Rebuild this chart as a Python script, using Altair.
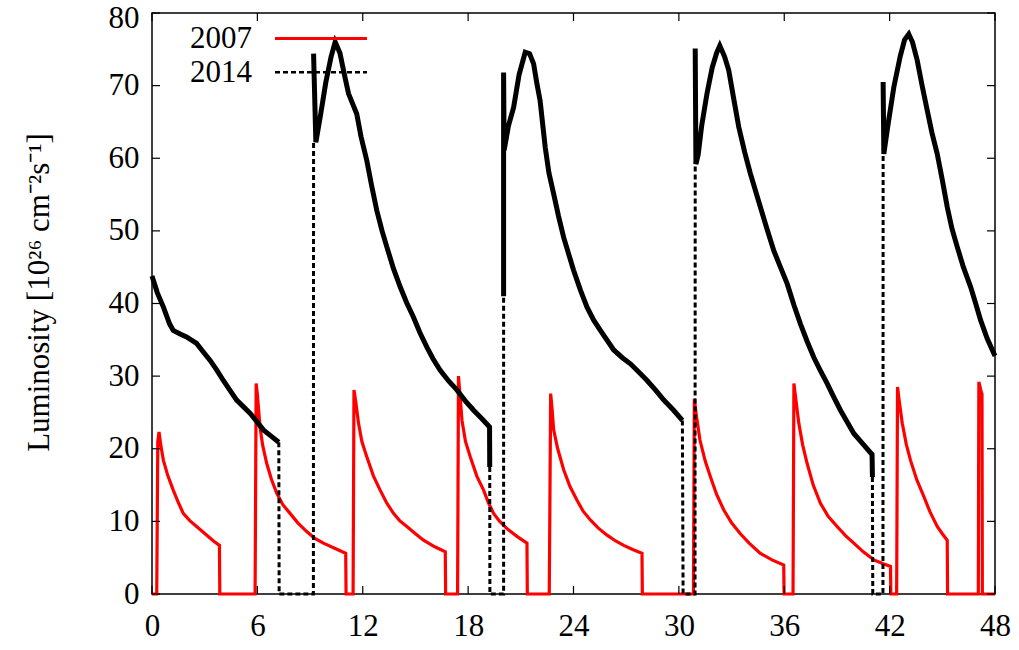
import altair as alt
import pandas as pd

# ---------------- data ----------------
x_ticks = [0, 6, 12, 18, 24, 30, 36, 42, 48]
y_ticks = [0, 10, 20, 30, 40, 50, 60, 70, 80]

# 2007 (red, solid) - hours and luminosity
red_x = [0, 0.27, 0.33, 0.40, 0.50, 0.65, 0.90, 1.21, 1.50, 1.78, 2.15, 2.54, 3.12, 3.50, 3.84, 3.86,
         5.87, 5.93, 6.00, 6.15, 6.30, 6.53, 6.80, 7.10, 7.45, 7.86, 8.30, 8.81, 9.25, 9.76, 10.40, 11.03, 11.05,
         11.45, 11.50, 11.60, 11.76, 11.95, 12.23, 12.60, 12.99, 13.35, 13.75, 14.10, 14.51, 15.00, 15.46, 16.10, 16.70, 16.72,
         17.40, 17.45, 17.55, 17.65, 17.85, 18.12, 18.50, 18.88, 19.15, 19.45, 19.80, 20.21, 20.80, 21.35, 21.37,
         22.62, 22.70, 22.78, 22.87, 23.10, 23.44, 23.80, 24.20, 24.55, 24.96, 25.40, 25.91, 26.40, 26.86, 27.40, 27.90, 27.92,
         30.83, 30.88, 31.00, 31.20, 31.50, 31.80, 32.15, 32.55, 33.00, 33.50, 34.00, 34.64, 35.30, 35.97, 35.99,
         36.50, 36.55, 36.65, 36.83, 37.05, 37.30, 37.65, 38.06, 38.50, 39.01, 39.50, 39.96, 40.50, 41.10, 41.60, 42.05, 42.07,
         42.40, 42.45, 42.55, 42.72, 42.95, 43.19, 43.55, 43.95, 44.30, 44.71, 45.00, 45.28, 45.30,
         47.05, 47.08, 47.20, 47.26, 47.28, 48.00]
red_y = [0, 0, 21.0, 22.3, 20.5, 18.4, 16.3, 14.3, 12.6, 11.1, 10.1, 9.3, 8.1, 7.3, 6.7, 0,
         0, 29.0, 27.5, 23.0, 20.5, 18.0, 15.8, 13.9, 12.3, 11.1, 9.8, 8.6, 7.7, 7.0, 6.3, 5.6, 0,
         0, 28.1, 26.5, 23.5, 21.0, 18.9, 16.3, 14.3, 12.6, 11.1, 10.1, 9.3, 8.3, 7.4, 6.5, 5.8, 0,
         0, 30.0, 27.0, 23.9, 21.0, 18.9, 16.2, 14.3, 12.6, 11.1, 10.0, 9.0, 7.9, 7.0, 0,
         0, 27.6, 25.5, 22.6, 20.0, 17.1, 14.8, 12.9, 11.4, 10.2, 9.1, 8.1, 7.3, 6.7, 6.1, 5.6, 0,
         0, 26.9, 24.5, 21.2, 18.3, 16.1, 13.7, 11.6, 9.8, 8.3, 7.0, 5.6, 4.7, 4.0, 0,
         0, 29.0, 27.0, 23.5, 20.5, 18.0, 15.0, 12.5, 10.7, 9.3, 8.0, 7.0, 5.8, 4.7, 4.2, 3.8, 0,
         0, 28.5, 26.5, 23.5, 20.6, 18.4, 15.7, 13.4, 11.3, 9.3, 8.3, 7.4, 0,
         0, 29.2, 28.0, 27.5, 0, 0]

# 2014 (black) - dense (solid-looking) stretches
blk_solid_x = [
    [0.00, 0.30, 0.65, 1.00, 1.21, 1.60, 1.97, 2.54, 2.90, 3.30, 3.70, 4.06, 4.45, 4.82, 5.20, 5.58, 5.95, 6.34, 6.80, 7.22],
    [9.20, 9.33, 9.60, 9.90, 10.20, 10.43, 10.70, 11.00, 11.19, 11.66, 11.90, 12.23, 12.50, 12.80, 13.10, 13.37, 13.75,
     14.13, 14.50, 14.89, 15.25, 15.65, 16.00, 16.41, 16.90, 17.36, 17.80, 18.31, 18.80, 19.22, 19.23],
    [20.02, 20.02, 20.05, 20.30, 20.59, 20.90, 21.25, 21.50, 21.73, 21.90, 22.10, 22.39, 22.60, 22.87, 23.15, 23.44,
     24.00, 24.40, 24.77, 25.15, 25.53, 26.29, 26.80, 27.24, 27.70, 28.19, 28.70, 29.14, 29.70, 30.20],
    [30.93, 30.97, 31.10, 31.30, 31.60, 31.90, 32.15, 32.33, 32.60, 32.84, 33.10, 33.41, 33.75, 34.07, 34.64, 35.00,
     35.40, 35.80, 36.17, 36.55, 36.92, 37.30, 37.68, 38.05, 38.44, 38.80, 39.20, 39.60, 39.96, 40.50, 41.00, 41.02],
    [41.63, 41.67, 41.90, 42.24, 42.60, 42.85, 43.09, 43.30, 43.57, 43.85, 44.14, 44.41, 44.71, 45.00, 45.28, 45.55,
     45.85, 46.20, 46.61, 46.90, 47.18, 47.55, 47.94, 48.00],
]
blk_solid_y = [
    [43.8, 41.5, 39.5, 37.2, 36.3, 35.8, 35.4, 34.5, 33.4, 32.2, 30.8, 29.4, 28.0, 26.7, 25.8, 24.9, 23.8, 22.6, 21.7, 20.9],
    [74.4, 62.2, 66.0, 70.5, 74.0, 76.0, 74.5, 71.0, 68.9, 66.1, 63.0, 59.7, 56.3, 52.8, 50.0, 47.8, 44.8,
     42.3, 40.1, 38.1, 36.0, 34.0, 32.4, 30.8, 29.3, 28.1, 26.7, 25.3, 24.1, 23.0, 17.5],
    [41.0, 71.8, 61.1, 64.5, 67.0, 71.5, 74.6, 74.4, 73.0, 70.5, 67.9, 61.5, 58.0, 55.1, 52.0, 49.1,
     44.6, 41.8, 39.5, 37.7, 36.3, 33.6, 32.5, 31.7, 30.6, 29.4, 28.0, 26.7, 25.3, 23.9],
    [75.1, 59.2, 60.5, 64.5, 68.9, 72.5, 74.5, 75.5, 74.0, 72.1, 68.5, 64.3, 60.8, 57.9, 53.3, 50.4,
     47.3, 44.9, 42.7, 39.8, 37.2, 34.8, 32.6, 30.8, 29.0, 27.2, 25.3, 23.6, 22.1, 20.6, 19.2, 16.1],
    [70.5, 60.6, 64.5, 69.8, 74.0, 76.3, 77.1, 76.0, 73.5, 70.0, 66.6, 63.5, 60.6, 57.0, 53.3, 50.3,
     47.8, 45.0, 42.3, 40.0, 37.7, 35.2, 33.1, 32.8],
]
# 2014 (black) - sparse gaps drawn dashed
blk_dash_x = [
    [7.22, 7.24, 9.19, 9.20],
    [19.23, 19.24, 20.02, 20.02],
    [30.20, 30.24, 30.92, 30.93],
    [41.02, 41.04, 41.62, 41.63],
]
blk_dash_y = [
    [20.9, 0, 0, 62.5],
    [17.5, 0, 0, 41.0],
    [23.9, 0, 0, 59.5],
    [16.1, 0, 0, 60.5],
]

legend_labels = ["2007", "2014"]

# ---------------- build tables ----------------
red_df = pd.DataFrame({"hr": red_x, "val": red_y})
red_df["i"] = range(len(red_df))


def seg_table(xs, ys):
    rows = []
    for s, (sx, sy) in enumerate(zip(xs, ys)):
        for k, (a, b) in enumerate(zip(sx, sy)):
            rows.append({"hr": a, "val": b, "seg": s, "i": k})
    return pd.DataFrame(rows)


solid_df = seg_table(blk_solid_x, blk_solid_y)
dash_df = seg_table(blk_dash_x, blk_dash_y)
xt_df = pd.DataFrame({"t": x_ticks})
yt_df = pd.DataFrame({"t": y_ticks})
one_df = pd.DataFrame({"k": [0]})

FONT = "Liberation Serif"
W, H = 843, 581
TICK = 8

xscale = alt.Scale(domain=[0, 48], nice=False, zero=False)
yscale = alt.Scale(domain=[0, 80], nice=False)

x_axis = alt.Axis(values=x_ticks, title=None, grid=False, domain=False, ticks=False,
                  labelFont=FONT, labelFontSize=31, labelColor="black", labelPadding=17,
                  labelFlush=False, labelOverlap=False)
y_axis = alt.Axis(values=y_ticks, title="Luminosity [10²⁶ cm⁻²s⁻¹]", grid=False, domain=False,
                  ticks=False, labelFont=FONT, labelFontSize=31, labelColor="black",
                  labelPadding=13, labelFlush=False, labelOverlap=False,
                  labelOffset=alt.condition("datum.value == 80", alt.value(5), alt.value(0)),
                  titleFont=FONT, titleFontSize=31, titleFontWeight="normal",
                  titleColor="black", titlePadding=53, titleY=279)

red_line = alt.Chart(red_df).mark_line(color="#ff0000", strokeWidth=3.2).encode(
    x=alt.X("hr:Q", scale=xscale, axis=x_axis),
    y=alt.Y("val:Q", scale=yscale, axis=y_axis),
    order="i:Q",
)

dash_line = alt.Chart(dash_df).mark_line(color="black", strokeWidth=3, strokeDash=[5, 3]).encode(
    x=alt.X("hr:Q", scale=xscale),
    y=alt.Y("val:Q", scale=yscale),
    detail="seg:N",
    order="i:Q",
)

solid_line = alt.Chart(solid_df).mark_line(color="black", strokeWidth=5).encode(
    x=alt.X("hr:Q", scale=xscale),
    y=alt.Y("val:Q", scale=yscale),
    detail="seg:N",
    order="i:Q",
)

# inward ticks on all four sides
xt_bottom = alt.Chart(xt_df).mark_rule(color="black", strokeWidth=1.2).encode(
    x=alt.X("t:Q", scale=xscale), y=alt.value(H), y2=alt.value(H - TICK))
xt_top = alt.Chart(xt_df).mark_rule(color="black", strokeWidth=1.2).encode(
    x=alt.X("t:Q", scale=xscale), y=alt.value(0), y2=alt.value(TICK))
yt_left = alt.Chart(yt_df).mark_rule(color="black", strokeWidth=1.2).encode(
    y=alt.Y("t:Q", scale=yscale), x=alt.value(0), x2=alt.value(TICK))
yt_right = alt.Chart(yt_df).mark_rule(color="black", strokeWidth=1.2).encode(
    y=alt.Y("t:Q", scale=yscale), x=alt.value(W), x2=alt.value(W - TICK))

# legend (label left of sample, as in the original)
lg1_txt = alt.Chart(one_df).mark_text(font=FONT, fontSize=31, align="right", baseline="middle",
                                      color="black").encode(
    x=alt.value(100), y=alt.value(26), text=alt.value(legend_labels[0]))
lg2_txt = alt.Chart(one_df).mark_text(font=FONT, fontSize=31, align="right", baseline="middle",
                                      color="black").encode(
    x=alt.value(100), y=alt.value(60), text=alt.value(legend_labels[1]))
lg1_line = alt.Chart(one_df).mark_rule(color="#ff0000", strokeWidth=3).encode(
    x=alt.value(123), x2=alt.value(215), y=alt.value(25.6))
lg2_line = alt.Chart(one_df).mark_rule(color="black", strokeWidth=2.5, strokeDash=[5, 3]).encode(
    x=alt.value(123), x2=alt.value(215), y=alt.value(59.3))

chart = alt.layer(
    red_line, dash_line, solid_line,
    xt_bottom, xt_top, yt_left, yt_right,
    lg1_txt, lg2_txt, lg1_line, lg2_line,
).properties(
    width=W, height=H,
    autosize=alt.AutoSizeParams(type="none"),
    padding={"left": 152, "top": 13, "right": 24, "bottom": 56},
    background="white",
).configure_view(stroke="black", strokeWidth=1.5)

chart.save("out.html", embed_options={"renderer": "svg", "actions": False})
